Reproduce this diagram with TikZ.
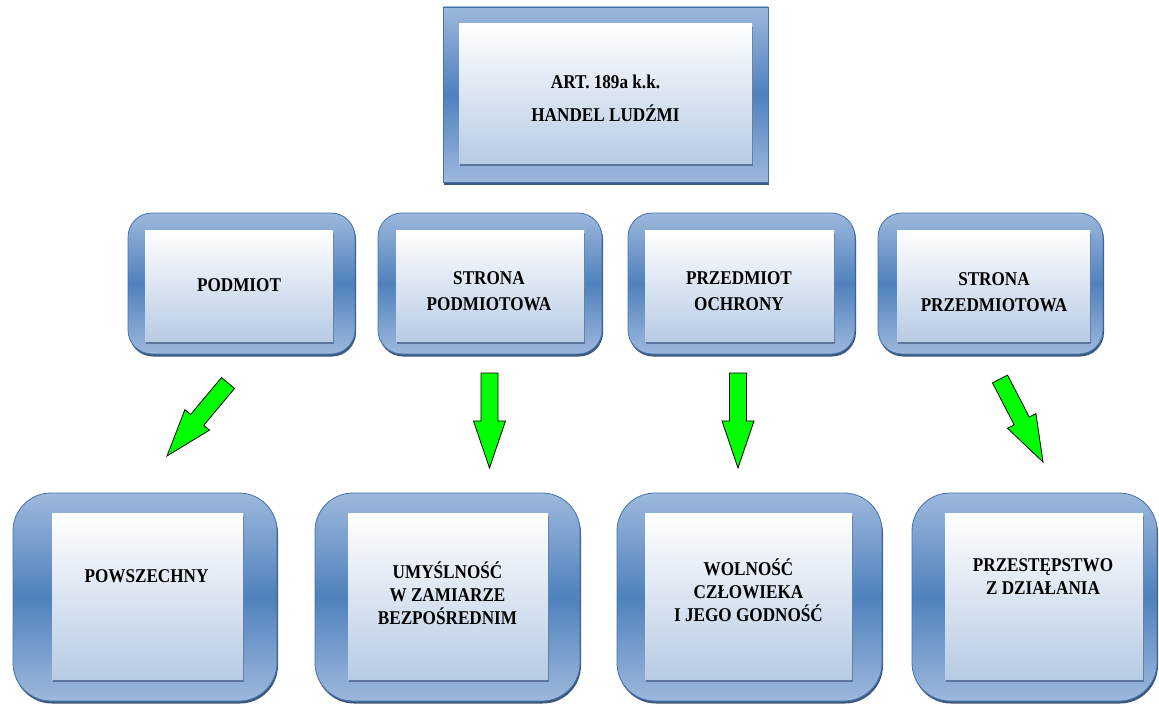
\documentclass[tikz,border=0pt]{standalone}
\usepackage{fontspec}
\setmainfont{Liberation Serif}[FakeStretch=0.88]
\usetikzlibrary{calc,shadows}
\definecolor{frameLight}{HTML}{9DB8DC}
\definecolor{frameDark}{HTML}{4F81BD}
\definecolor{frameLine}{HTML}{4372AD}
\definecolor{shadowBlue}{HTML}{27466E}
\definecolor{innerBot}{HTML}{B7CBE4}
\definecolor{innerShadow}{HTML}{5A7298}
\definecolor{arrowGreen}{HTML}{00FF00}
\tikzset{
  outerbox/.style={draw=frameLine, line width=0.8pt, top color=frameLight, bottom color=frameLight, middle color=frameDark,
    drop shadow={shadow xshift=1pt, shadow yshift=-2.5pt, fill=shadowBlue, opacity=0.9}, inner sep=0pt, outer sep=0pt},
  toprect/.style={outerbox, rectangle},
  rowtwo/.style={outerbox, rectangle, rounded corners=24pt, minimum height=141pt},
  rowthree/.style={outerbox, rectangle, rounded corners=38pt, minimum height=208pt},
  innerbox/.style={rectangle, top color=white, bottom color=innerBot, draw=none, inner sep=0pt,
    drop shadow={shadow xshift=1pt, shadow yshift=-3pt, fill=innerShadow, opacity=0.95}},
  lbl/.style={align=center, font=\bfseries\fontsize{19.5}{23}\selectfont, inner sep=0pt},
  lbltwo/.style={lbl, font=\bfseries\fontsize{19.5}{26}\selectfont},
  lbltop/.style={lbl, font=\bfseries\fontsize{19.5}{33}\selectfont},
  blockarrow/.style={fill=arrowGreen, draw=black, line width=0.8pt, line join=miter}
}
\newcommand\blockarr[2]{%
  \draw[blockarrow]
    ($(#1)!8.5pt!90:(#2)$) --
    ($($(#1)!0.505!(#2)$)!8.5pt!90:(#2)$) --
    ($($(#1)!0.505!(#2)$)!16pt!90:(#2)$) --
    (#2) --
    ($($(#1)!0.505!(#2)$)!16pt!-90:(#2)$) --
    ($($(#1)!0.505!(#2)$)!8.5pt!-90:(#2)$) --
    ($(#1)!8.5pt!-90:(#2)$) -- cycle;}
\begin{document}
\begin{tikzpicture}[x=1pt,y=-1pt]
\useasboundingbox (0,0) rectangle (1159,706);
% top
\node[toprect, minimum width=325pt, minimum height=175pt] (top) at (605.5,94.5) {};
\node[innerbox, minimum width=293pt, minimum height=139pt] (topin) at (605.5,93.5) {};
\node[lbltop] (toptxt) at (605.5,98) {ART. 189a k.k.\\HANDEL LUDŹMI};
% row 2
\node[rowtwo, minimum width=227pt] (b1) at (241.5,283.5) {};
\node[innerbox, minimum width=188pt, minimum height=111pt] (b1in) at (239,285.5) {};
\node[lbltwo] (b1txt) at (239,285) {PODMIOT};
\node[rowtwo, minimum width=224pt] (b2) at (490,283.5) {};
\node[innerbox, minimum width=188pt, minimum height=111pt] (b2in) at (490,285.5) {};
\node[lbltwo] (b2txt) at (489,291) {STRONA\\PODMIOTOWA};
\node[rowtwo, minimum width=227pt] (b3) at (741.5,283.5) {};
\node[innerbox, minimum width=189pt, minimum height=111pt] (b3in) at (739.5,285.5) {};
\node[lbltwo] (b3txt) at (739,291) {PRZEDMIOT\\OCHRONY};
\node[rowtwo, minimum width=225pt] (b4) at (990.5,283.5) {};
\node[innerbox, minimum width=193pt, minimum height=111pt] (b4in) at (993.5,285.5) {};
\node[lbltwo] (b4txt) at (994,292) {STRONA\\PRZEDMIOTOWA};
% row 3
\node[rowthree, minimum width=264pt] (c1) at (145,597) {};
\node[innerbox, minimum width=191pt, minimum height=166pt] (c1in) at (147.5,596) {};
\node[lbl] (c1txt) at (146.5,576) {POWSZECHNY};
\node[rowthree, minimum width=265pt] (c2) at (447.5,597) {};
\node[innerbox, minimum width=200pt, minimum height=166pt] (c2in) at (448,596) {};
\node[lbl] (c2txt) at (447.5,593) {UMYŚLNOŚĆ\\W ZAMIARZE\\BEZPOŚREDNIM};
\node[rowthree, minimum width=265pt] (c3) at (749.5,597) {};
\node[innerbox, minimum width=207pt, minimum height=166pt] (c3in) at (748.5,596) {};
\node[lbl] (c3txt) at (748.5,590) {WOLNOŚĆ\\CZŁOWIEKA\\I JEGO GODNOŚĆ};
\node[rowthree, minimum width=245pt] (c4) at (1034.5,597) {};
\node[innerbox, minimum width=198pt, minimum height=166pt] (c4in) at (1044,596) {};
\node[lbl] (c4txt) at (1043,577) {PRZESTĘPSTWO\\Z DZIAŁANIA};
% arrows
\coordinate (a1t) at (228,383);  \coordinate (a1h) at (167,456);
\coordinate (a2t) at (489.5,373); \coordinate (a2h) at (489.5,468);
\coordinate (a3t) at (738,373);  \coordinate (a3h) at (738,468);
\coordinate (a4t) at (1000,379); \coordinate (a4h) at (1043,462);
\blockarr{a1t}{a1h}
\blockarr{a2t}{a2h}
\blockarr{a3t}{a3h}
\blockarr{a4t}{a4h}
\end{tikzpicture}
\end{document}
